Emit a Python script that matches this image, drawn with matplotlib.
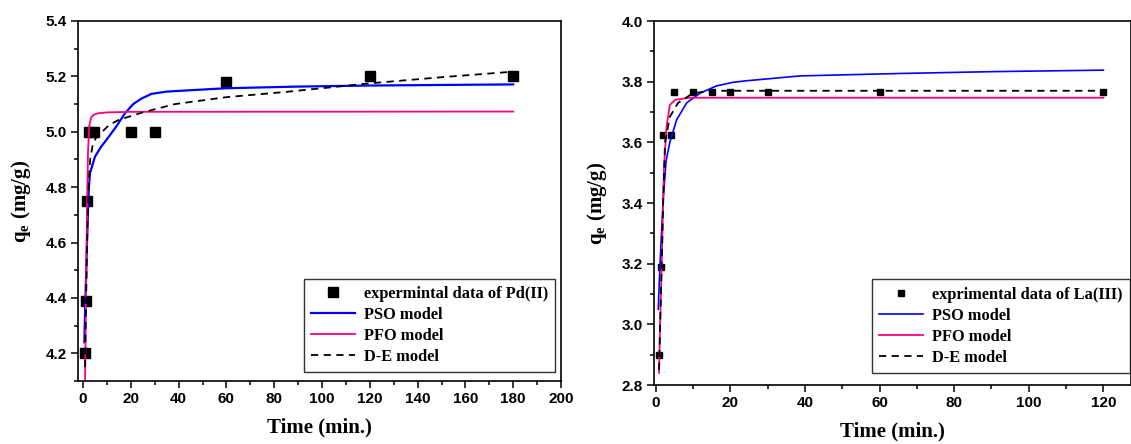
import matplotlib
matplotlib.use("Agg")
import matplotlib.pyplot as plt
from matplotlib.ticker import MultipleLocator

# Pd(II) panel - experimental points
pd_t = [0.7, 1.2, 1.8, 2.4, 4.5, 20, 30, 60, 120, 180]
pd_q = [4.20, 4.39, 4.75, 5.00, 5.00, 5.00, 5.00, 5.18, 5.20, 5.20]

# Pd(II) model curves
pd_pso_t = [0.55, 1.0, 1.3, 1.6, 1.95, 2.4, 2.9, 4.3, 5.0, 7.5, 10.6, 14, 17.6, 21, 24.5,
            28.7, 35, 45, 59.4, 88.7, 120, 150, 180]
pd_pso_q = [4.24, 4.40, 4.48, 4.58, 4.68, 4.79, 4.85, 4.89, 4.91, 4.945, 4.98, 5.02, 5.067,
            5.10, 5.12, 5.137, 5.145, 5.150, 5.157, 5.163, 5.167, 5.169, 5.171]
pd_pfo_t = [0.8, 1.25, 1.7, 2.1, 2.6, 3.3, 4.5, 6.5, 10, 20, 180]
pd_pfo_q = [4.05, 4.40, 4.75, 4.93, 5.02, 5.05, 5.062, 5.067, 5.070, 5.072, 5.073]
pd_de_t = [0.85, 1.3, 1.7, 2.0, 2.5, 3.0, 4.0, 5.5, 8, 11, 15, 25, 38.5, 60, 85, 120, 150, 180]
pd_de_q = [4.15, 4.40, 4.60, 4.70, 4.83, 4.90, 4.95, 4.98, 5.00, 5.025, 5.043, 5.07, 5.10,
           5.125, 5.144, 5.175, 5.197, 5.217]

# La(III) panel - experimental points
la_t = [1, 1.5, 2, 4, 5, 10, 15, 20, 30, 60, 120]
la_q = [2.90, 3.19, 3.625, 3.625, 3.767, 3.767, 3.767, 3.767, 3.767, 3.767, 3.767]

# La(III) model curves
la_pso_t = [0.7, 1.0, 1.4, 2.0, 2.8, 3.8, 5.6, 8.3, 11.9, 16.3, 20.8, 24.4, 38.7, 65.5, 90, 120]
la_pso_q = [3.05, 3.15, 3.26, 3.41, 3.54, 3.60, 3.674, 3.73, 3.762, 3.786, 3.798, 3.803,
            3.819, 3.827, 3.833, 3.838]
la_pfo_t = [0.9, 1.15, 1.6, 2.2, 2.9, 3.8, 5.2, 9, 120]
la_pfo_q = [2.84, 2.99, 3.19, 3.51, 3.65, 3.723, 3.74, 3.747, 3.747]
la_de_t = [0.9, 1.2, 1.6, 2.0, 2.5, 3.8, 6.0, 10, 15, 120]
la_de_q = [2.85, 3.00, 3.19, 3.40, 3.60, 3.684, 3.73, 3.762, 3.77, 3.77]

serif = ['Liberation Serif', 'DejaVu Serif']
sans = ['Liberation Sans', 'DejaVu Sans']
blue = '#0000ff'
pink = '#ff0080'
plt.rcParams['mathtext.fontset'] = 'custom'
plt.rcParams['mathtext.rm'] = 'Liberation Serif:bold'

fig = plt.figure(figsize=(11.31, 4.44), dpi=100)
ax1 = fig.add_axes([78 / 1131, 1 - 381 / 444, (561 - 78) / 1131, 360 / 444])
ax2 = fig.add_axes([654 / 1131, 1 - 385 / 444, (1131 - 654) / 1131, 364 / 444])


def style_axis(ax, yticks, ylabels):
    ax.xaxis.set_major_locator(MultipleLocator(20))
    ax.xaxis.set_minor_locator(MultipleLocator(10))
    ax.yaxis.set_minor_locator(MultipleLocator(0.1))
    ax.set_yticks(yticks)
    ax.set_yticklabels(ylabels)
    ax.tick_params(which='major', direction='out', length=5, width=1.1, top=False, right=False,
                   pad=3)
    ax.tick_params(which='minor', direction='out', length=3, width=1.1, top=False, right=False)
    for sp in ax.spines.values():
        sp.set_linewidth(1.2)
    for lab in ax.get_xticklabels() + ax.get_yticklabels():
        lab.set_family(sans)
        lab.set_fontweight('bold')
        lab.set_fontsize(11)
    ax.set_xlabel('Time (min.)', family=serif, fontweight='bold', fontsize=15, labelpad=8)
    ax.set_ylabel(r'q$_\mathregular{e}$ (mg/g)', family=serif, fontweight='bold', fontsize=15,
                  labelpad=9)


def add_legend(ax, anchor):
    leg = ax.legend(loc='lower right', bbox_to_anchor=anchor, frameon=True, fancybox=False,
                    edgecolor='black', borderpad=0.45, labelspacing=0.3, handlelength=2.7,
                    handletextpad=0.5, borderaxespad=0,
                    prop={'family': serif, 'weight': 'bold', 'size': 11.8})
    leg.get_frame().set_linewidth(1.0)


# left panel
ax1.plot(pd_t, pd_q, 's', color='black', markersize=7.5, label='expermintal data of Pd(II)')
ax1.plot(pd_pso_t, pd_pso_q, color=blue, lw=1.6, label='PSO model')
ax1.plot(pd_pfo_t, pd_pfo_q, color=pink, lw=1.3, label='PFO model')
ax1.plot(pd_de_t, pd_de_q, '--', color='black', lw=1.3, dashes=(4, 3), label='D-E model')
ax1.set_xlim(-2.1, 200)
ax1.set_ylim(4.1, 5.4)
style_axis(ax1, [4.2, 4.4, 4.6, 4.8, 5.0, 5.2, 5.4], ['4.2', '4.4', '4.6', '4.8', '5.0', '5.2', '5.4'])
add_legend(ax1, (0.988, 0.025))

# right panel
ax2.plot(la_t, la_q, 's', color='black', markersize=5, label='exprimental data of La(III)')
ax2.plot(la_pso_t, la_pso_q, color=blue, lw=1.2, label='PSO model')
ax2.plot(la_pfo_t, la_pfo_q, color=pink, lw=1.3, label='PFO model')
ax2.plot(la_de_t, la_de_q, '--', color='black', lw=1.3, dashes=(4, 3), label='D-E model')
ax2.set_xlim(-0.45, 127.4)
ax2.set_ylim(2.8, 4.0)
style_axis(ax2, [2.8, 3.0, 3.2, 3.4, 3.6, 3.8, 4.0], ['2.8', '3.0', '3.2', '3.4', '3.6', '3.8', '4.0'])
add_legend(ax2, (0.997, 0.033))

fig.savefig('out.png', dpi=100)
